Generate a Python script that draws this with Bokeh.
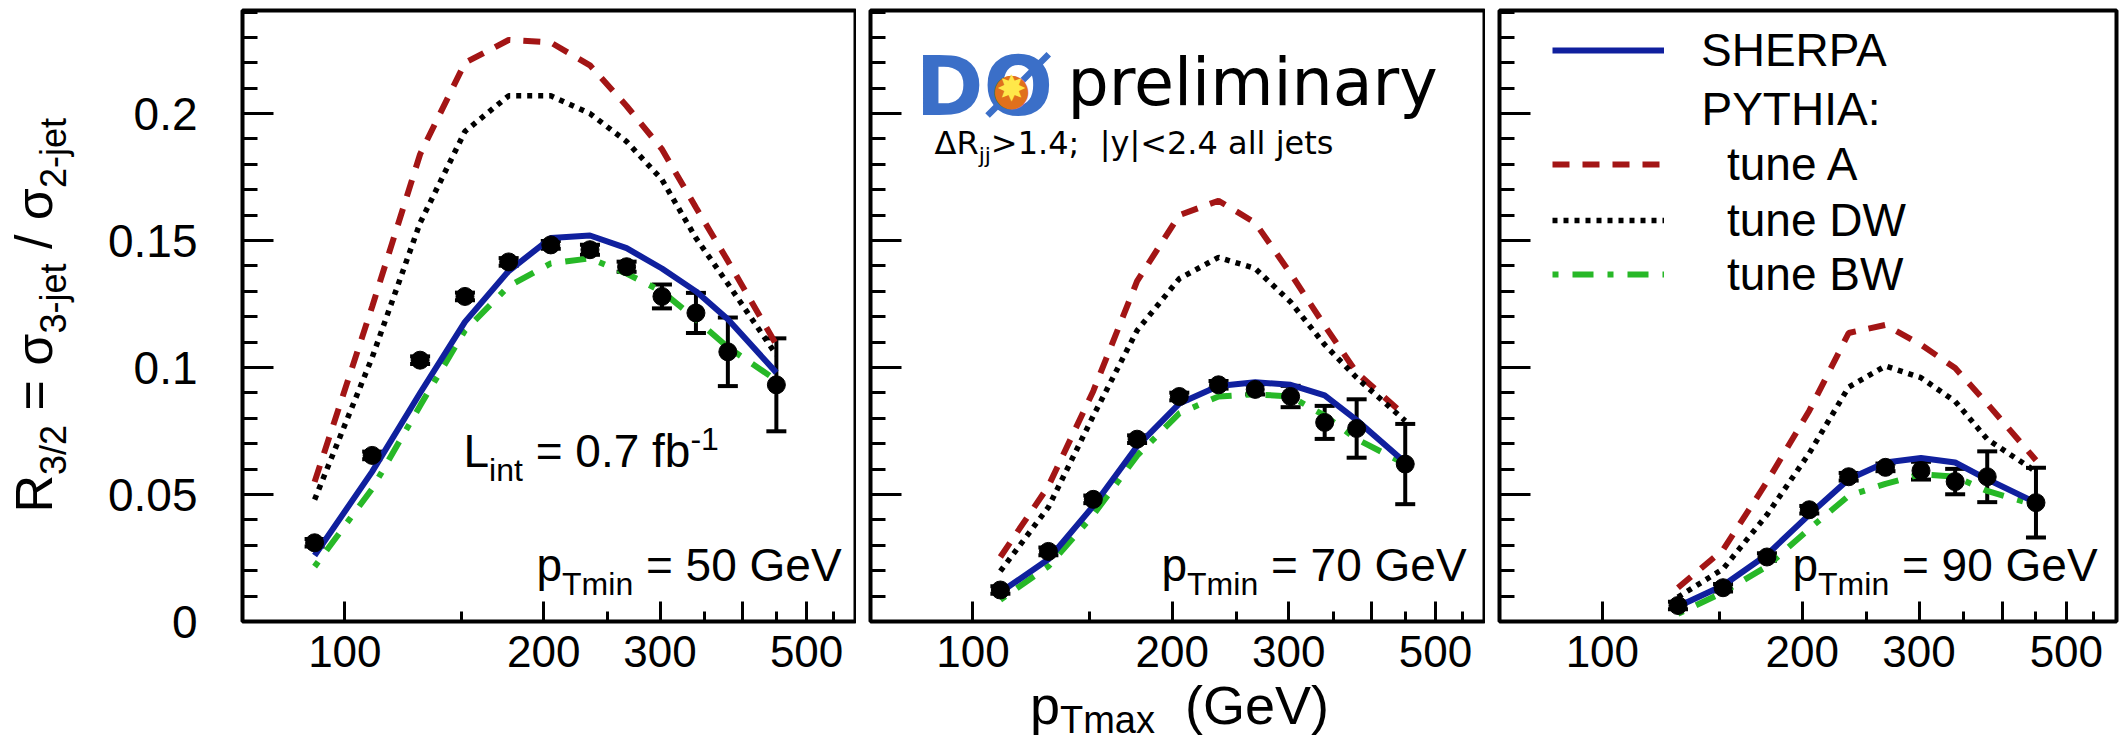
import math
from bokeh.plotting import figure
from bokeh.models import (Range1d, FixedTicker, CustomJSTickFormatter, ColumnDataSource,
                          Whisker, TeeHead, Label, Legend, LegendItem)
from bokeh.layouts import row, column
from bokeh.embed import file_html
from bokeh.resources import INLINE

# pT_max bin centres (GeV)
ptmax = [90, 110, 130, 152, 177, 205, 235, 267, 302, 340, 380, 450]

# pT_min = 50 GeV : all twelve bins
r32_50 = [0.031, 0.0654, 0.1029, 0.128, 0.1416, 0.1483, 0.1464, 0.1397, 0.128, 0.1215, 0.1062, 0.0932]
err_50 = [0.0015, 0.0015, 0.0015, 0.0015, 0.0015, 0.0015, 0.002, 0.002, 0.0047, 0.0079, 0.0135, 0.0183]
sherpa_50 = [0.026, 0.059, 0.090, 0.118, 0.138, 0.151, 0.152, 0.147, 0.139, 0.130, 0.119, 0.098]
tuneA_50 = [0.055, 0.124, 0.184, 0.220, 0.229, 0.228, 0.219, 0.203, 0.186, 0.163, 0.142, 0.109]
tuneDW_50 = [0.048, 0.104, 0.157, 0.193, 0.207, 0.207, 0.200, 0.189, 0.174, 0.151, 0.133, 0.105]
tuneBW_50 = [0.0216, 0.0523, 0.085, 0.1146, 0.132, 0.141, 0.143, 0.137, 0.130, 0.119, 0.108, 0.095]

# pT_min = 70 GeV : from the second bin on
r32_70 = [0.0124, 0.0276, 0.0481, 0.0718, 0.0886, 0.0932, 0.0914, 0.0886, 0.0784, 0.0760, 0.062]
err_70 = [0.0015, 0.0015, 0.0015, 0.0015, 0.0015, 0.0015, 0.002, 0.0042, 0.0065, 0.0115, 0.0158]
sherpa_70 = [0.0115, 0.0245, 0.0455, 0.069, 0.0858, 0.0927, 0.0942, 0.0932, 0.089, 0.0793, 0.0626]
tuneA_70 = [0.0254, 0.0533, 0.0908, 0.134, 0.160, 0.1657, 0.157, 0.137, 0.1165, 0.098, 0.081]
tuneDW_70 = [0.0198, 0.045, 0.081, 0.1146, 0.135, 0.1434, 0.139, 0.1258, 0.109, 0.096, 0.079]
tuneBW_70 = [0.0086, 0.0217, 0.042, 0.0653, 0.082, 0.0886, 0.0895, 0.0886, 0.0811, 0.0718, 0.062]

# pT_min = 90 GeV : from the third bin on
r32_90 = [0.0063, 0.0133, 0.0254, 0.044, 0.057, 0.0607, 0.0594, 0.0551, 0.057, 0.0468]
err_90 = [0.0015, 0.0015, 0.0015, 0.0015, 0.0015, 0.0015, 0.0035, 0.005, 0.0100, 0.0137]
sherpa_90 = [0.0059, 0.0142, 0.0263, 0.0421, 0.056, 0.0626, 0.0644, 0.0626, 0.056, 0.0468]
tuneA_90 = [0.0133, 0.0282, 0.055, 0.083, 0.1136, 0.1168, 0.109, 0.0998, 0.0858, 0.0635]
tuneDW_90 = [0.0096, 0.0207, 0.042, 0.0663, 0.0923, 0.1006, 0.096, 0.0867, 0.0718, 0.059]
tuneBW_90 = [0.003, 0.0115, 0.0217, 0.0365, 0.0495, 0.0542, 0.058, 0.057, 0.0514, 0.0458]

x_tick_values = [100, 200, 300, 400, 500]
x_tick_labels = ["100", "200", "300", "", "500"]
x_minor_values = [150, 250, 350, 450, 550]
y_tick_values = [0, 0.05, 0.1, 0.15, 0.2]
y_tick_labels = ["0", "0.05", "0.1", "0.15", "0.2"]
y_minor_values = [round(0.01 * k, 2) for k in range(25) if k % 5]

panels = [
    dict(cut=50, first=0, r32=r32_50, err=err_50, sherpa=sherpa_50, a=tuneA_50, dw=tuneDW_50, bw=tuneBW_50),
    dict(cut=70, first=1, r32=r32_70, err=err_70, sherpa=sherpa_70, a=tuneA_70, dw=tuneDW_70, bw=tuneBW_70),
    dict(cut=90, first=2, r32=r32_90, err=err_90, sherpa=sherpa_90, a=tuneA_90, dw=tuneDW_90, bw=tuneBW_90),
]

# page geometry (px)
PAGE_H = 741
YSTRIP_W = 100                 # strip holding the vertical axis title
FRAME_TOP = 10
FRAME_H = 611
FRAME_BOTTOM = FRAME_TOP + FRAME_H
PANEL_BORDER_BOTTOM = 55
XSTRIP_H = PAGE_H - (FRAME_BOTTOM + PANEL_BORDER_BOTTOM)
# (absolute frame left, frame width, left border, right border)
frames = [(242, 614, 242 - YSTRIP_W, 0), (870, 615, 14, 0), (1499, 617, 14, 3)]

SANS = "Liberation Sans"
DEJAVU = "DejaVu Sans"
C_SHERPA = "#10209e"
C_A = "#a31515"
C_DW = "#000000"
C_BW = "#27b827"
BASE_SHIFT = 0.42   # alphabetic-baseline correction for Label placement (em)

# advance widths (em) used to chain sub/superscript pieces
W_SANS = {" ": 0.278, "(": 0.333, ")": 0.333, "-": 0.333, ".": 0.278, "/": 0.278, "=": 0.584,
          "\u03c3": 0.617, "G": 0.778, "V": 0.667, "L": 0.556, "R": 0.722, "T": 0.611,
          "a": 0.556, "b": 0.556, "e": 0.556, "f": 0.278, "i": 0.222, "j": 0.222, "m": 0.833,
          "n": 0.556, "p": 0.556, "t": 0.278, "x": 0.5}
W_DEJAVU = {" ": 0.318, "\u0394": 0.684, "R": 0.695, "j": 0.278}


def add_text(p, origin, X, Y, text, size, font=SANS, angle=0.0, color="black",
             style="normal", align="left", baseline="alphabetic"):
    """Place text at page position (X, Y); origin is the page position of the frame's bottom-left."""
    if baseline == "alphabetic":
        if angle == 0:
            Y -= BASE_SHIFT * size
        else:
            X -= BASE_SHIFT * size
    ox, oy = origin
    p.add_layout(Label(x=X - ox, y=oy - Y, x_units="screen", y_units="screen",
                       text=text, text_font=font, text_font_size=f"{size}px", text_color=color,
                       text_font_style=style, text_align=align, text_baseline=baseline, angle=angle))


def add_rich(p, origin, X, Y, pieces, widths=W_SANS, font=SANS, vertical=False):
    pos = 0.0
    for text, size, shift in pieces:
        stripped = text.lstrip(" ")
        pos += (len(text) - len(stripped)) * widths[" "] * size
        if vertical:
            add_text(p, origin, X + shift, Y - pos, stripped, size, font, angle=math.pi / 2)
        else:
            add_text(p, origin, X + pos, Y + shift, stripped, size, font)
        pos += sum(widths.get(c, 0.556) for c in stripped) * size


def blank_strip(w, h):
    s = figure(width=w, height=h, frame_width=w, frame_height=h, title=None,
               x_range=Range1d(0, 1), y_range=Range1d(0, 1),
               x_axis_location=None, y_axis_location=None, min_border=0,
               min_border_left=0, min_border_right=0, min_border_top=0, min_border_bottom=0,
               output_backend="svg", toolbar_location=None, outline_line_color=None,
               background_fill_color="white", border_fill_color="white")
    s.grid.visible = False
    return s


def make_panel(idx, info):
    frame_left, frame_w, b_left, b_right = frames[idx]
    origin = (frame_left, FRAME_BOTTOM)
    p = figure(x_axis_type="log", x_range=Range1d(70, 595), y_range=Range1d(0, 0.2406),
               frame_width=frame_w, frame_height=FRAME_H, title=None,
               min_border_left=b_left, min_border_right=b_right,
               min_border_top=FRAME_TOP, min_border_bottom=PANEL_BORDER_BOTTOM,
               output_backend="svg", toolbar_location=None,
               background_fill_color="white", border_fill_color="white",
               outline_line_color="black", outline_line_width=4)
    p.grid.visible = False

    xa = p.xaxis[0]
    xa.ticker = FixedTicker(ticks=x_tick_values, minor_ticks=x_minor_values)
    xa.formatter = CustomJSTickFormatter(args=dict(vals=x_tick_values, labs=x_tick_labels),
                                         code="const i = vals.indexOf(tick); return i >= 0 ? labs[i] : '';")
    xa.major_tick_in, xa.major_tick_out = 20, 0
    xa.minor_tick_in, xa.minor_tick_out = 10, 0
    xa.major_tick_line_width = 3
    xa.minor_tick_line_width = 3
    xa.axis_line_color = None
    xa.major_label_text_font = SANS
    xa.major_label_text_font_size = "44px"
    xa.major_label_text_color = "black"
    xa.major_label_standoff = 14

    ya = p.yaxis[0]
    ya.ticker = FixedTicker(ticks=y_tick_values, minor_ticks=y_minor_values)
    if idx == 0:
        ya.formatter = CustomJSTickFormatter(args=dict(vals=y_tick_values, labs=y_tick_labels),
                                             code="let i = -1; vals.forEach((v, k) => { if (Math.abs(v - tick) < 1e-9) i = k; }); return i >= 0 ? labs[i] : '';")
        ya.major_label_standoff = 45
    else:
        ya.formatter = CustomJSTickFormatter(code="return '';")
        ya.major_label_standoff = 0
    ya.major_tick_in, ya.major_tick_out = 31, 0
    ya.minor_tick_in, ya.minor_tick_out = 15, 0
    ya.major_tick_line_width = 3
    ya.minor_tick_line_width = 3
    ya.axis_line_color = None
    ya.major_label_text_font = SANS
    ya.major_label_text_font_size = "46px"
    ya.major_label_text_color = "black"

    xs = ptmax[info["first"]:]
    r_a = p.line(xs, info["a"], line_color=C_A, line_width=6, line_dash="17 13")
    r_dw = p.line(xs, info["dw"], line_color=C_DW, line_width=5.5, line_dash="5 6")
    r_bw = p.line(xs, info["bw"], line_color=C_BW, line_width=6, line_dash="6 14 21 14")
    r_sh = p.line(xs, info["sherpa"], line_color=C_SHERPA, line_width=6, line_join="round")

    src = ColumnDataSource(dict(
        x=xs, y=info["r32"],
        lo=[v - e for v, e in zip(info["r32"], info["err"])],
        hi=[v + e for v, e in zip(info["r32"], info["err"])]))
    p.add_layout(Whisker(source=src, base="x", lower="lo", upper="hi", dimension="height",
                         line_color="black", line_width=4,
                         lower_head=TeeHead(size=20, line_width=4, line_color="black"),
                         upper_head=TeeHead(size=20, line_width=4, line_color="black")))
    p.scatter("x", "y", source=src, size=18, color="black")

    # cut label in the lower right corner
    text_x = [536, 1161, 1792][idx]
    add_rich(p, origin, text_x, 584,
             [("p", 46, 0), ("Tmin", 32, 13), (f" = {info['cut']} GeV", 46, 0)])
    return p, origin, (r_sh, r_a, r_dw, r_bw)


p1, o1, _ = make_panel(0, panels[0])
p2, o2, _ = make_panel(1, panels[1])
p3, o3, rend3 = make_panel(2, panels[2])

# vertical axis title (reads bottom to top)
ystrip = blank_strip(YSTRIP_W, PAGE_H)
add_rich(ystrip, (0, PAGE_H), 55, 512,
         [("R", 52, 0), ("3/2", 36, 13), (" = \u03c3", 52, 0), ("3-jet", 36, 13),
          (" / \u03c3", 52, 0), ("2-jet", 36, 13)], vertical=True)

# horizontal axis title, centred under the three panels
xstrip = blank_strip(2119 - YSTRIP_W, XSTRIP_H)
title_pieces = [("p", 54, 0), ("Tmax", 38, 8), ("  (GeV)", 54, 0)]
title_w = sum(sum(W_SANS.get(c, 0.556) for c in t) * s for t, s, _ in title_pieces)
centre = (frames[0][0] + frames[2][0] + frames[2][1]) / 2
add_rich(xstrip, (YSTRIP_W, PAGE_H), centre - title_w / 2, 727, title_pieces)

# integrated luminosity
add_rich(p1, o1, 463, 470,
         [("L", 46, 0), ("int", 32, 13), (" = 0.7 fb", 46, 0), ("-1", 32, -18)])

# experiment logo and selection
add_text(p2, o2, 915, 120, "D\u00d8", 82, font=DEJAVU, style="bold", color="#3b6fc8")
add_text(p2, o2, 1011, 88, "\u25cf", 44, font=DEJAVU, color="#e0701c", align="center", baseline="middle")
add_text(p2, o2, 1011, 88, "\u2738", 36, font=DEJAVU, color="#ffe84a", align="center", baseline="middle")
add_text(p2, o2, 1067, 109, "preliminary", 65, font=DEJAVU)
add_rich(p2, o2, 934, 156,
         [("\u0394R", 32, 0), ("jj", 22, 8), (">1.4;\u00a0 |y|<2.4 all jets", 32, 0)],
         widths=W_DEJAVU, font=DEJAVU)

# legend, one row per block so the rows sit at fixed heights
r_sh, r_a, r_dw, r_bw = rend3
common = dict(label_text_font=SANS, label_text_font_size="46px", label_text_color="black",
              glyph_width=112, glyph_height=46, label_height=46, padding=0, margin=0, spacing=0,
              border_line_color=None, background_fill_alpha=0)
HALF_ROW = 27
legend_rows = [("SHERPA", r_sh, 49.6, 37), ("tune A", r_a, 164, 63),
               ("tune DW", r_dw, 219.8, 63), ("tune BW", r_bw, 274, 63)]
for label, rend, centre_y, standoff in legend_rows:
    p3.add_layout(Legend(items=[LegendItem(label=label, renderers=[rend])],
                         location=(1552 - o3[0], FRAME_BOTTOM - (centre_y + HALF_ROW)),
                         label_standoff=standoff, **common))
add_text(p3, o3, 1701, 127.6, "PYTHIA:", 46)

layout = row(ystrip, column(row(p1, p2, p3, spacing=0), xstrip, spacing=0), spacing=0)
open("out.html", "w").write(file_html(layout, INLINE))
